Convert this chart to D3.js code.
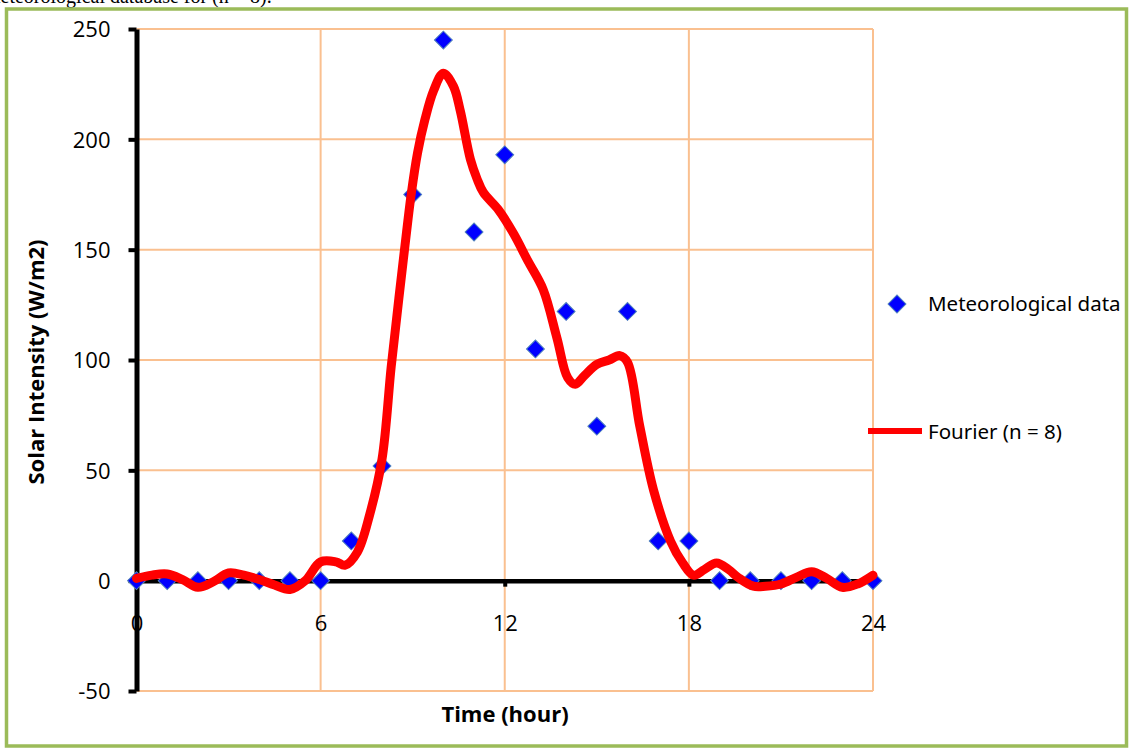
<!DOCTYPE html>
<head>
  <meta charset="utf-8">
  <script src="https://d3js.org/d3.v7.min.js"></script>
  <style>
    body { margin: 0; background: #fff; }
    .tick text { font-family: 'Open Sans', sans-serif; font-size: 22px; fill: #000; }
    .axisTitle { font-family: 'Open Sans', sans-serif; font-size: 22px; font-weight: 700; fill: #000; }
    .legendText { font-family: 'Noto Sans', sans-serif; font-size: 20.5px; fill: #000; }
    .caption { font-family: 'Liberation Serif', serif; font-size: 20px; fill: #000; }
  </style>
</head>
<body>
<script>

// measured points (hour -> W/m2)
const hours = d3.range(25);
const measured = [0, 0, 0, 0, 0, 0, 0, 18, 52, 175, 245, 158, 193, 105, 122, 70, 122, 18, 18, 0, 0, 0, 0, 0, 0];

// Fourier fit
const fitHour = [0, 0.5, 1, 1.5, 2, 2.5, 3, 3.5, 4, 4.5, 5, 5.5, 6, 6.5, 6.8, 7.2, 7.6, 8, 8.3, 8.55, 8.75, 8.95, 9.16, 9.4, 9.68, 10,
  10.33, 10.55, 10.88, 11.1, 11.3, 11.8, 12.3, 12.75, 13.25, 13.7, 14.05, 14.3, 14.6, 15, 15.4, 15.75, 16, 16.4, 16.85, 17.4, 17.8,
  18.15, 18.5, 18.9, 19.3, 19.6, 20.1, 20.5, 21, 21.5, 22, 22.5, 23, 23.5, 24];
const fitValue = [1, 2.5, 3, 0.5, -3, -0.5, 3.5, 2.5, 0.5, -2, -4, 0, 8.5, 8.5, 7, 13, 30, 55, 97, 128, 152, 175, 194, 209, 222, 230,
  224, 213, 191, 182, 176, 168, 157, 145, 132, 110, 92, 89, 93, 98, 100, 102, 99, 70, 41, 18, 8,
  2.5, 5, 8, 5, 1.5, -2.5, -2.5, -1.5, 1.5, 4, 1, -3, -1.5, 2.5];

const xTicks = [0, 6, 12, 18, 24];
const yTicks = [-50, 0, 50, 100, 150, 200, 250];

const W = 1132, H = 749;

const svg = d3.select("body").append("svg")
    .attr("width", W)
    .attr("height", H);

const x = d3.scaleLinear().domain([0, 24]).range([136.5, 873]);
const y = d3.scaleLinear().domain([-50, 250]).range([691, 29]);

// caption cut off at the top of the page
svg.append("text").attr("class", "caption")
    .attr("x", -15).attr("y", 3)
    .text("meteorological database for (n = 8).");

// outer frame
svg.append("rect")
    .attr("x", 6.5).attr("y", 9)
    .attr("width", 1120).attr("height", 737)
    .attr("fill", "none")
    .attr("stroke", "#9BBB59")
    .attr("stroke-width", 3.5);

// gridlines
const grid = svg.append("g");
grid.selectAll(".h").data(yTicks).enter().append("line")
    .attr("x1", x(0)).attr("x2", x(24))
    .attr("y1", d => y(d)).attr("y2", d => y(d))
    .attr("stroke", "#FAC090").attr("stroke-width", 2);
grid.selectAll(".v").data(xTicks.slice(1)).enter().append("line")
    .attr("x1", d => x(d)).attr("x2", d => x(d))
    .attr("y1", y(250)).attr("y2", y(-50))
    .attr("stroke", "#FAC090").attr("stroke-width", 2);

// x axis through y = 0
const xAxis = svg.append("g")
    .attr("transform", "translate(0," + y(0) + ")")
    .call(d3.axisBottom(x).tickValues(xTicks).tickSize(6).tickSizeOuter(0).tickPadding(29)
        .tickFormat(d => String(d)));
xAxis.select(".domain").attr("stroke", "#000").attr("stroke-width", 4.5);
xAxis.selectAll(".tick line").attr("stroke", "#000").attr("stroke-width", 4);

// y axis
const yAxis = svg.append("g")
    .attr("transform", "translate(" + x(0) + ",0)")
    .call(d3.axisLeft(y).tickValues(yTicks).tickSize(8).tickSizeOuter(0).tickPadding(18)
        .tickFormat(d => String(d)));
yAxis.select(".domain").attr("stroke", "#000").attr("stroke-width", 5);
yAxis.selectAll(".tick line").attr("stroke", "#000").attr("stroke-width", 4);
yAxis.selectAll(".tick text").attr("dy", "0.36em");

// axis titles
svg.append("text").attr("class", "axisTitle")
    .attr("x", 505).attr("y", 722)
    .attr("text-anchor", "middle")
    .text("Time (hour)");
svg.append("text").attr("class", "axisTitle")
    .attr("transform", "translate(44,362) rotate(-90)")
    .attr("text-anchor", "middle")
    .text("Solar Intensity (W/m2)");

// measured points
const diamond = d3.symbol().type(d3.symbolSquare).size(160);
svg.selectAll(".pt").data(hours).enter().append("path")
    .attr("d", diamond)
    .attr("transform", (d, i) => "translate(" + x(d) + "," + y(measured[i]) + ") rotate(45)")
    .attr("fill", "#0000FF")
    .attr("stroke", "#4F81BD")
    .attr("stroke-width", 1);

// Fourier fit
const line = d3.line()
    .x(d => x(d[0]))
    .y(d => y(d[1]))
    .curve(d3.curveCatmullRom.alpha(0.5));
svg.append("path")
    .datum(fitHour.map((h, i) => [h, fitValue[i]]))
    .attr("d", line)
    .attr("fill", "none")
    .attr("stroke", "#FF0000")
    .attr("stroke-width", 9)
    .attr("stroke-linejoin", "round")
    .attr("stroke-linecap", "round");

// legend
svg.append("path")
    .attr("d", diamond)
    .attr("transform", "translate(897,304) rotate(45)")
    .attr("fill", "#0000FF")
    .attr("stroke", "#4F81BD");
svg.append("text").attr("class", "legendText")
    .attr("x", 928).attr("y", 311)
    .text("Meteorological data");
svg.append("line")
    .attr("x1", 868).attr("x2", 922)
    .attr("y1", 431).attr("y2", 431)
    .attr("stroke", "#FF0000").attr("stroke-width", 6);
svg.append("text").attr("class", "legendText")
    .attr("x", 928).attr("y", 439)
    .text("Fourier (n = 8)");

</script>
</body>
